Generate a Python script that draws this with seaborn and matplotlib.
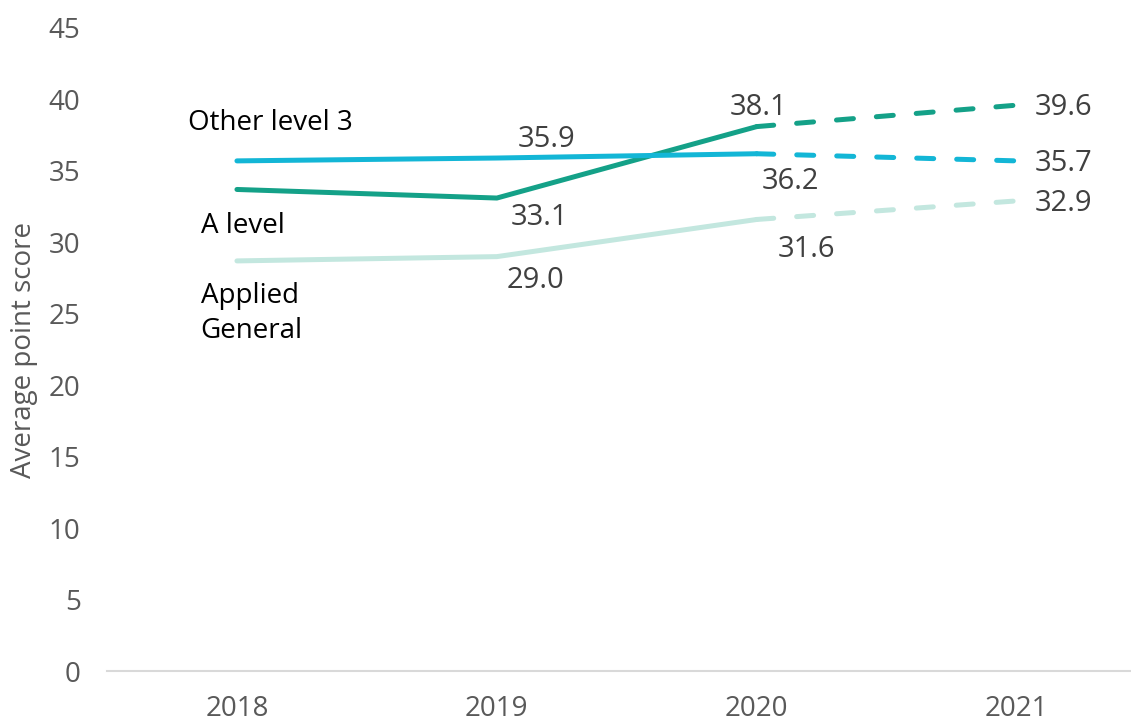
import matplotlib
matplotlib.use("Agg")
import matplotlib.pyplot as plt
import seaborn as sns
import pandas as pd
import numpy as np

# Data
years = ["2018", "2019", "2020", "2021"]
series_names = ["Other level 3", "A level", "Applied General"]
other_level3 = [35.7, 35.9, 36.2, 35.7]
a_level = [33.7, 33.1, 38.1, 39.6]
applied_general = [28.7, 29.0, 31.6, 32.9]
y_ticks = [0, 5, 10, 15, 20, 25, 30, 35, 40, 45]

colors = {
    "Other level 3": "#13B6D6",
    "A level": "#14A188",
    "Applied General": "#C3E7DF",
}
values = {
    "Other level 3": other_level3,
    "A level": a_level,
    "Applied General": applied_general,
}

sns.set_theme(style="white")
plt.rcParams["font.family"] = ["Open Sans", "DejaVu Sans"]

fig = plt.figure(figsize=(11.31, 7.24), dpi=100)
ax = fig.add_axes([107 / 1131, 53 / 724, 1 - 107 / 1131, (671 - 28) / 724])

xpos = np.arange(len(years))
lw = 3.6
for name in ["Applied General", "A level", "Other level 3"]:
    vals = values[name]
    # actual results (solid) and the 2021 projection (dashed)
    solid = pd.DataFrame({"x": xpos[:3], "y": vals[:3]})
    dashed = pd.DataFrame({"x": xpos[2:], "y": vals[2:]})
    sns.lineplot(data=solid, x="x", y="y", ax=ax, color=colors[name],
                 linewidth=lw, solid_capstyle="round", solid_joinstyle="round")
    sns.lineplot(data=dashed, x="x", y="y", ax=ax, color=colors[name],
                 linewidth=lw, dashes=False)
    ax.lines[-1].set_linestyle((0, (3.4, 4.6)))
    ax.lines[-1].set_dash_capstyle("round")

ax.set_xlim(-0.5, 3.44)
ax.set_ylim(0, 45)
ax.set_xticks(xpos)
ax.set_xticklabels(years)
ax.set_yticks(y_ticks)
ax.tick_params(axis="both", colors="#595959", labelsize=20, length=0)
ax.tick_params(axis="x", pad=17)
ax.tick_params(axis="y", pad=19)
for lab in ax.get_xticklabels() + ax.get_yticklabels():
    lab.set_color("#595959")

ax.set_xlabel("")
ax.set_ylabel("Average point score", fontsize=20, color="#595959")
ax.yaxis.set_label_coords(-0.067, 0.5)
for s in ["top", "right", "left"]:
    ax.spines[s].set_visible(False)
ax.spines["bottom"].set_color("#D9D9D9")
ax.spines["bottom"].set_linewidth(1.5)
ax.grid(False)

# Value labels (dx in category units, dy in data units)
label_col = "#404040"
fs = 21
annotations = [
    ("Other level 3", 1, 0.19, 1.32),
    ("A level", 1, 0.165, -1.33),
    ("Applied General", 1, 0.15, -1.68),
    ("A level", 2, 0.005, 1.35),
    ("Other level 3", 2, 0.13, -1.95),
    ("Applied General", 2, 0.19, -2.08),
    ("A level", 3, 0.18, -0.15),
    ("Other level 3", 3, 0.18, -0.15),
    ("Applied General", 3, 0.18, -0.15),
]
for name, i, dx, dy in annotations:
    v = values[name][i]
    ax.text(xpos[i] + dx, v + dy, f"{v:.1f}", ha="center", va="center",
            fontsize=fs, color=label_col)

# Series labels
ax.text(-0.19, 38.35, "Other level 3", ha="left", va="center", fontsize=20, color="black")
ax.text(-0.14, 31.12, "A level", ha="left", va="center", fontsize=20, color="black")
ax.text(-0.14, 25.02, "Applied\nGeneral", ha="left", va="center", fontsize=20,
        color="black", linespacing=1.3)

fig.savefig("out.png", dpi=100)
